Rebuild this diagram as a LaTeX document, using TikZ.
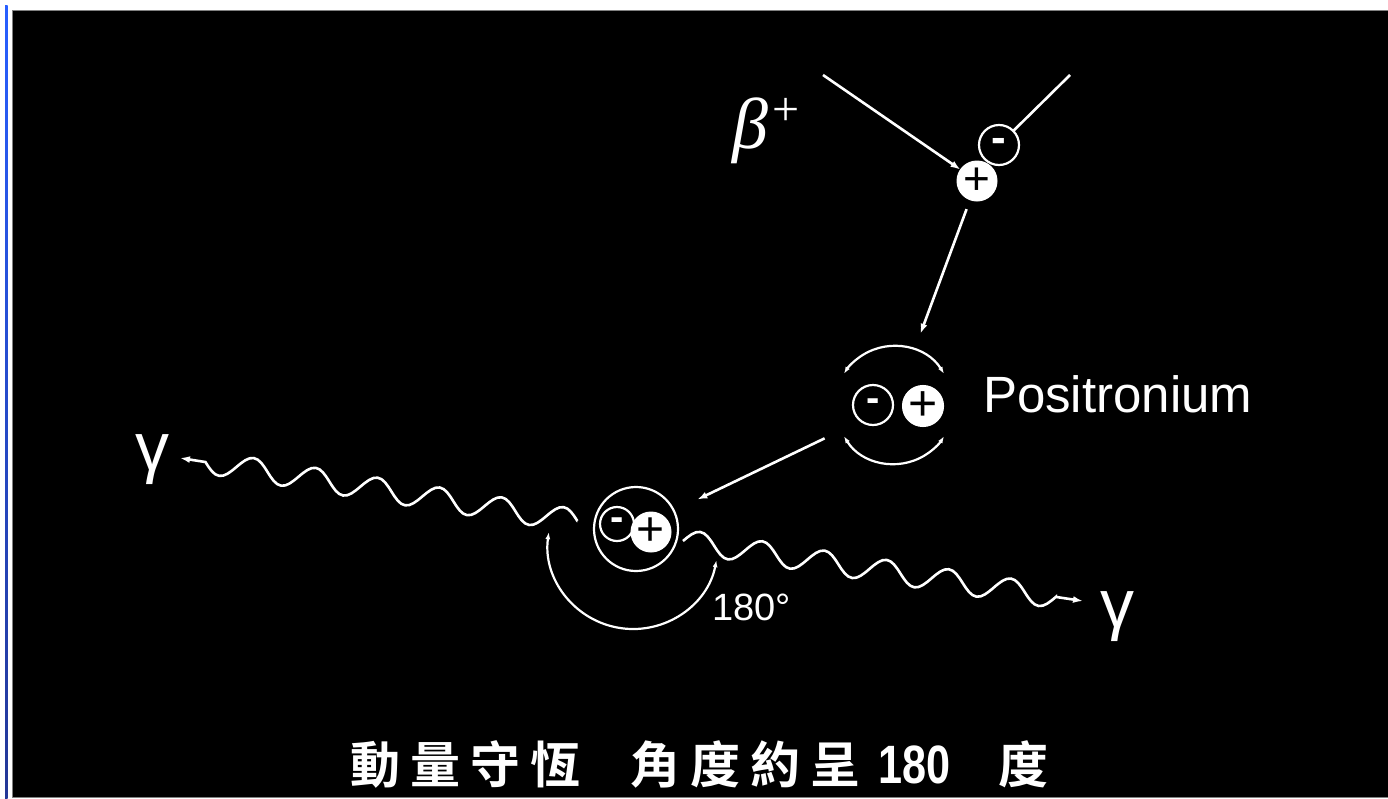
\documentclass[tikz,border=0pt]{standalone}
\usepackage{fontspec}
\setmainfont{Liberation Sans}
\newfontfamily\greekserif{Liberation Serif}
\newfontfamily\cjk{Noto Sans CJK TC}[BoldFont={Noto Sans CJK TC Bold}]
\usetikzlibrary{arrows.meta,decorations,calc}

% one full sine period per segment, straight line for whatever is left over
\pgfdeclaredecoration{sinewave}{period}{
  \state{period}[width=\pgfdecorationsegmentlength,
                 switch if less than=\pgfdecorationsegmentlength to final]{
    \pgfpathcurveto{\pgfqpoint{0.08357\pgfdecorationsegmentlength}{0.5251\pgfdecorationsegmentamplitude}}
                   {\pgfqpoint{0.15987\pgfdecorationsegmentlength}{\pgfdecorationsegmentamplitude}}
                   {\pgfqpoint{0.25\pgfdecorationsegmentlength}{\pgfdecorationsegmentamplitude}}
    \pgfpathcurveto{\pgfqpoint{0.34013\pgfdecorationsegmentlength}{\pgfdecorationsegmentamplitude}}
                   {\pgfqpoint{0.41643\pgfdecorationsegmentlength}{0.5251\pgfdecorationsegmentamplitude}}
                   {\pgfqpoint{0.5\pgfdecorationsegmentlength}{0pt}}
    \pgfpathcurveto{\pgfqpoint{0.58357\pgfdecorationsegmentlength}{-0.5251\pgfdecorationsegmentamplitude}}
                   {\pgfqpoint{0.65987\pgfdecorationsegmentlength}{-\pgfdecorationsegmentamplitude}}
                   {\pgfqpoint{0.75\pgfdecorationsegmentlength}{-\pgfdecorationsegmentamplitude}}
    \pgfpathcurveto{\pgfqpoint{0.84013\pgfdecorationsegmentlength}{-\pgfdecorationsegmentamplitude}}
                   {\pgfqpoint{0.91643\pgfdecorationsegmentlength}{-0.5251\pgfdecorationsegmentamplitude}}
                   {\pgfqpoint{\pgfdecorationsegmentlength}{0pt}}
  }
  \state{final}{\pgfpathlineto{\pgfpointdecoratedpathlast}}
}

\begin{document}
\begin{tikzpicture}[x=1pt,y=1pt,
  every node/.style={inner sep=0pt, outer sep=0pt},
  tip/.style={-{Latex[length=10pt,width=7pt]}},
  wire/.style={white, line width=2.6pt},
  orbit/.style={white, line width=2.2pt, {Latex[length=7pt,width=5pt]}-{Latex[length=7pt,width=5pt]}},
  electron/.style={circle, draw=white, line width=2.2pt, fill=black, minimum size=#1,
    text=white, font=\fontsize{44}{44}\selectfont\bfseries},
  positron/.style={circle, draw=white, line width=1pt, fill=white, minimum size=#1,
    text=black, font=\fontsize{46}{46}\selectfont},
  photon/.style={white, line width=2.6pt, decorate,
    decoration={sinewave, amplitude=11.5pt, segment length=#1}},
  label/.style={text=white}
]
% page and frame
\useasboundingbox (0,0) rectangle (1388,-798);
\fill[white] (0,0) rectangle (1388,-798);
\shade[top color={rgb,255:red,40;green,95;blue,255}, bottom color={rgb,255:red,35;green,55;blue,150}]
  (5,-5) rectangle (7.5,-798);
\fill[black] (12,-10) rectangle (1388,-797);
\draw[gray, line width=1pt] (1388,-10.5) -- (12.5,-10.5) -- (12.5,-797) -- (1388,-797);

% incoming positron and electron
\coordinate (srcP) at (823,-75);
\coordinate (srcE) at (1070,-75);
\node[electron=40pt] (eA) at (999,-145) {-};
\node[positron=40pt] (pA) at (977,-181) {+};
\draw[wire, tip] (srcP) -- (pA);
\draw[wire] (srcE) -- (eA);
\node[label, font=\fontsize{72}{72}\selectfont\greekserif\itshape, anchor=base west] (beta) at (732,-148)
  {β\hspace{5pt}\raisebox{23pt}{\fontsize{48}{48}\selectfont\upshape +}};

% positronium
\node[circle, minimum size=118pt] (ps) at (894,-405) {};
\node[electron=40pt, font=\fontsize{40}{40}\selectfont\bfseries] (eB) at (873,-405) {-};
\node[positron=41pt, font=\fontsize{50}{50}\selectfont] (pB) at (923,-406) {+};
\draw[orbit] ($(ps)+(32:59)$) arc[start angle=32, end angle=148, radius=59];
\draw[orbit] ($(ps)+(212:59)$) arc[start angle=212, end angle=328, radius=59];
\node[label, font=\fontsize{51}{51}\selectfont, anchor=base west] (pslabel) at (983,-412) {Positronium};
\draw[wire, tip, shorten <=10pt, shorten >=17pt] (pA) -- (ps);

% annihilation
\node[circle, draw=white, line width=2.2pt, minimum size=84pt] (ann) at (636,-529) {};
\node[electron=34pt, font=\fontsize{40}{40}\selectfont\bfseries] (eC) at (617,-524) {-};
\node[positron=40pt, font=\fontsize{48}{48}\selectfont] (pC) at (651,-532) {+};
\draw[wire, tip, shorten <=18pt, shorten >=26pt] (ps) -- (ann);

% emitted photons
\node[label, font=\fontsize{68}{68}\selectfont, anchor=base] (gL) at (152,-470) {γ};
\node[label, font=\fontsize{68}{68}\selectfont, anchor=base] (gR) at (1117,-627) {γ};
\coordinate (wL0) at (180,-458);
\coordinate (wL1) at (577.5,-521);
\coordinate (wR0) at (683,-541);
\coordinate (wR1) at (1083,-601);
\draw[photon=62.75pt, decoration={mirror, pre length=25.8pt}, {Latex[length=10pt,width=7pt]}-] (wL0) -- (wL1);
\draw[photon=62.84pt, decoration={post length=27.3pt}, tip] (wR0) -- (wR1);

% opening angle
\coordinate (vtx) at (633,-544);
\draw[orbit] ($(vtx)+(172:85)$) arc[start angle=172, end angle=349, radius=85];
\node[label, font=\fontsize{38}{38}\selectfont, anchor=base west] (angle) at (712,-620) {180°};

% caption
\node[label, font=\fontsize{50}{50}\selectfont\cjk\bfseries\addfontfeature{LetterSpace=20}, anchor=base west] (caption) at (350,-783)
  {動量守恆\hspace{50pt}角度約呈\hspace{18pt}\scalebox{0.8}[1]{\fontsize{54}{54}\selectfont\normalfont\bfseries 180}\hspace{48pt}度};
\end{tikzpicture}
\end{document}
